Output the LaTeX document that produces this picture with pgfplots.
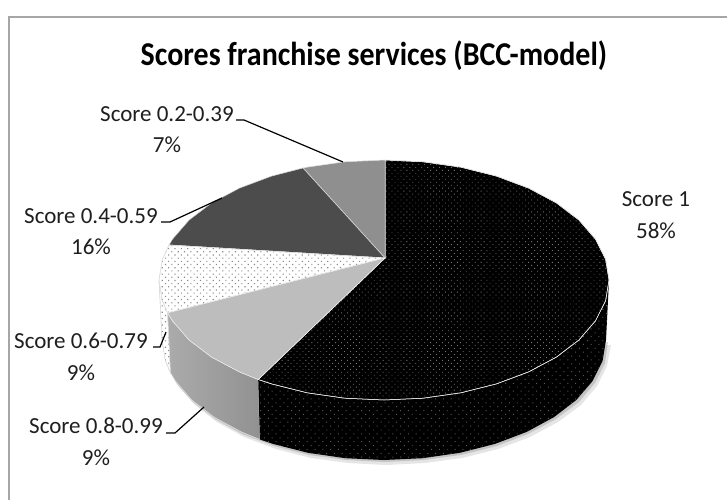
\documentclass[border=0pt]{standalone}
\usepackage{pgfplots}
\pgfplotsset{compat=1.18}
\usepackage{fontspec}
\setmainfont{Carlito}
\usetikzlibrary{patterns.meta}
\definecolor{frameg}{HTML}{A6A6A6}
\newcommand\lbl{\fontsize{23}{26}\selectfont\color{black!88}}
\begin{document}
\begin{tikzpicture}
\begin{axis}[
  scale only axis, width=727pt, height=500pt,
  xmin=0, xmax=727, ymin=0, ymax=500, y dir=reverse,
  hide axis, clip=true,
  every node/.append style={inner sep=0pt},
]
% page background
\addplot[fill=white, draw=none] coordinates {(0,0)(727,0)(727,500)(0,500)} --cycle;
% frame
\addplot[frameg, line width=1.2pt] coordinates {(9,500)(9,17)(727,17)};
% shadow
\addplot[fill=black, fill opacity=0.10, draw=none] coordinates {(165,345)(168,366)(178,386)(195,405)(217,422)(244,437)(276,449)(311,458)(348,463)(386,465)(425,463)(462,458)(498,449)(530,437)(558,422)(581,405)(597,386)(607,366)(611,345)} --cycle;
\addplot[fill=black, fill opacity=0.14, draw=none] coordinates {(163,342)(166,363)(176,383)(193,402)(215,419)(242,434)(274,446)(309,455)(346,460)(385,462)(424,460)(461,455)(497,446)(528,434)(556,419)(579,402)(595,383)(605,363)(608,342)} --cycle;
% side: dotted
\addplot[fill=white, draw=black!15, line width=0.4pt, postaction={pattern={Dots[distance=4.5pt,angle=45,radius=0.8pt]}, pattern color=black!45}] coordinates {(159,280)(162.4,300.8)(167.6,312.9)(170.5,372.9)(165.4,360.8)(162,340)} --cycle;
% side: light grey slice
\addplot[left color=black!33, right color=black!43, draw=black!10, line width=0.5pt] coordinates {(167.6,312.9)(172.6,321)(189.1,340)(211.6,357.1)(239.4,371.9)(258.2,379.5)(259.9,439.5)(241.3,431.9)(214,417.1)(191.7,400)(175.4,381)(170.5,372.9)} --cycle;
% side: black slice
\addplot[fill=black, draw=none, postaction={pattern={Dots[distance=5.5pt,angle=45,radius=0.7pt]}, pattern color=black!65}] coordinates {(258.2,379.5)(271.5,383.9)(307,392.8)(344.9,398.2)(384,400)(423.1,398.2)(461,392.8)(496.5,383.9)(528.6,371.9)(556.4,357.1)(578.9,340)(595.4,321)(605.6,300.8)(609,280)(606,340)(602.6,360.8)(592.6,381)(576.3,400)(554,417.1)(526.7,431.9)(495,443.9)(459.9,452.8)(422.5,458.2)(384,460)(345.5,458.2)(308.1,452.8)(273,443.9)(259.9,439.5)} --cycle;
% top: Score 1 (58%)
\addplot[fill=black, draw=black!8, line width=0.5pt, postaction={pattern={Dots[distance=4.2pt,angle=45,radius=0.6pt]}, pattern color=black!55}] coordinates {(385,258)(258.2,379.5)(271.5,383.9)(307,392.8)(344.9,398.2)(384,400)(423.1,398.2)(461,392.8)(496.5,383.9)(528.6,371.9)(556.4,357.1)(578.9,340)(595.4,321)(605.6,300.8)(609,280)(605.6,259.2)(595.4,239)(578.9,220)(556.4,202.9)(528.6,188.1)(496.5,176.1)(461,167.2)(423.1,161.8)(385,160)} --cycle;
% top: Score 0.2-0.39
\addplot[fill=black!44, draw=black!12, line width=0.5pt] coordinates {(385,258)(385,160)(344.9,161.8)(307,167.2)(303,168)} --cycle;
% top: Score 0.4-0.59
\addplot[fill=black!70, draw=black!12, line width=0.5pt] coordinates {(385,258)(303,168)(271.5,176.1)(239.4,188.1)(211.6,202.9)(189.1,220)(172.6,239)(169,245)} --cycle;
% top: dotted slice
\addplot[fill=white, draw=black!12, line width=0.5pt, postaction={pattern={Dots[distance=4.5pt,angle=45,radius=0.8pt]}, pattern color=black!45}] coordinates {(385,258)(169,245)(162.4,259.2)(159,280)(162.4,300.8)(167.6,312.9)} --cycle;
% top: light grey slice
\addplot[fill=black!26, draw=black!6, line width=0.5pt] coordinates {(385,258)(167.6,312.9)(172.6,321)(189.1,340)(211.6,357.1)(239.4,371.9)(258.2,379.5)} --cycle;
% leaders
\addplot[black, line width=1.2pt] coordinates {(236,120)(244,120)(343,162)};
\addplot[black, line width=1.2pt] coordinates {(161,222)(170,222)(222,198)};
\addplot[black, line width=1.2pt] coordinates {(153,347)(160,347)(166,332)};
\addplot[black, line width=1.2pt] coordinates {(166,433)(175,433)(204,407)};
% labels
\node[xscale=0.9] at (axis cs:374,56) {\fontsize{33.3}{36}\selectfont\bfseries\color{black} Scores franchise services (BCC-model)};
\node at (axis cs:656,199) {\lbl Score 1};
\node at (axis cs:656,231) {\lbl 58\%};
\node at (axis cs:167,114) {\lbl Score 0.2-0.39};
\node at (axis cs:167,145) {\lbl 7\%};
\node at (axis cs:91,216) {\lbl Score 0.4-0.59};
\node at (axis cs:91,247) {\lbl 16\%};
\node at (axis cs:81,341) {\lbl Score 0.6-0.79};
\node at (axis cs:81,373) {\lbl 9\%};
\node at (axis cs:96,426) {\lbl Score 0.8-0.99};
\node at (axis cs:96,458) {\lbl 9\%};
\end{axis}
\end{tikzpicture}
\end{document}
